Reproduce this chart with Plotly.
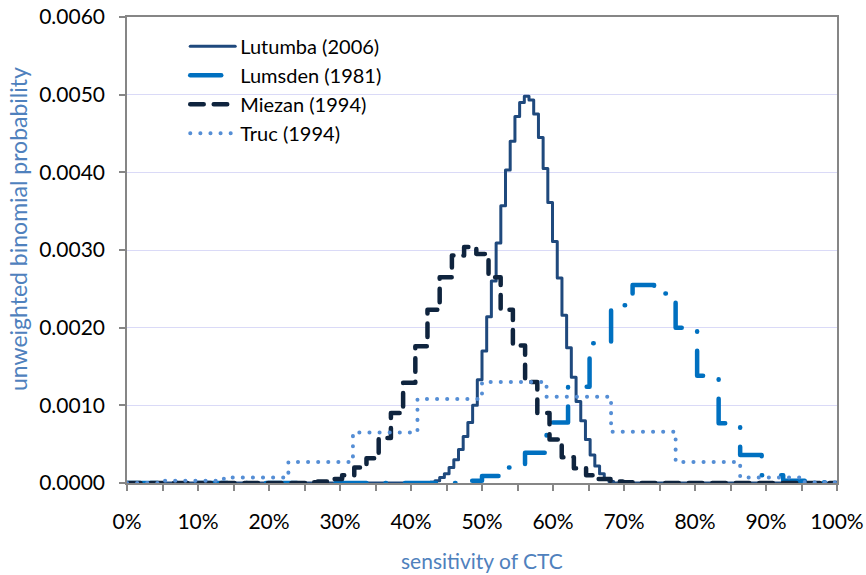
import plotly.graph_objects as go

# ---------------- data ----------------
# sensitivity (%) where each step starts, and the step's probability value
lutumba_x = [0, 42.72, 43.38, 44.04, 44.70, 45.36, 46.03, 46.69, 47.35, 48.01, 48.68,
             49.34, 50.00, 50.66, 51.32, 51.99, 52.65, 53.31, 53.97, 54.64, 55.30,
             55.96, 56.62, 57.28, 57.95, 58.61, 59.27, 59.93, 60.60, 61.26, 61.92,
             62.58, 63.25, 63.91, 64.57, 65.23, 65.89, 66.56, 67.22, 67.88, 68.54, 100]
lutumba_y = [0, 0.00001, 0.00003, 0.00007, 0.00012, 0.00020, 0.00030, 0.00043, 0.00060, 0.00078, 0.00100,
             0.00133, 0.00170, 0.00214, 0.00260, 0.00309, 0.00357, 0.00403, 0.00440, 0.00472, 0.00490,
             0.00498, 0.00493, 0.00475, 0.00445, 0.00405, 0.00361, 0.00311, 0.00264, 0.00216, 0.00174,
             0.00136, 0.00105, 0.00080, 0.00056, 0.00036, 0.00022, 0.00012, 0.00005, 0.00002, 0.0, 0.0]

lumsden_x = [0, 46.97, 50.00, 53.03, 56.06, 59.09, 62.12, 65.15, 68.18, 71.21, 74.24,
             77.27, 80.30, 83.33, 86.36, 89.39, 92.42, 95.45, 98.48, 100]
lumsden_y = [0, 0.00003, 0.00009, 0.00020, 0.00039, 0.00078, 0.00124, 0.00180, 0.00229, 0.00255, 0.00244,
             0.00200, 0.00138, 0.00077, 0.00036, 0.00010, 0.00003, 0.00001, 0.0, 0.0]

miezan_x = [0, 25.14, 26.86, 28.58, 30.30, 32.01, 33.73, 35.45, 37.17, 38.89, 40.61,
            42.32, 44.04, 45.76, 47.48, 49.20, 50.92, 52.63, 54.35, 56.07, 57.79,
            59.51, 61.23, 62.94, 64.66, 66.38, 68.10, 69.82, 71.54, 100]
miezan_y = [0, 0.00001, 0.00002, 0.00005, 0.00010, 0.00020, 0.00032, 0.00058, 0.00090, 0.00129, 0.00176,
            0.00223, 0.00265, 0.00293, 0.00304, 0.00295, 0.00265, 0.00223, 0.00177, 0.00130, 0.00090,
            0.00056, 0.00033, 0.00019, 0.00010, 0.00005, 0.00002, 0.00001, 0.0, 0.0]

truc_x = [0, 4.55, 13.64, 22.73, 31.82, 40.91, 50.00, 59.09, 68.18, 77.27, 86.36, 95.45, 100]
truc_y = [0, 0.00003, 0.00007, 0.00027, 0.00065, 0.00108, 0.00130, 0.00111, 0.00066, 0.00027, 0.00007, 0.00001, 0.00001]

series_names = ["Lutumba (2006)", "Lumsden (1981)", "Miezan (1994)", "Truc (1994)"]
x_ticks = [0, 10, 20, 30, 40, 50, 60, 70, 80, 90, 100]
x_tick_labels = ["0%", "10%", "20%", "30%", "40%", "50%", "60%", "70%", "80%", "90%", "100%"]
y_ticks = [0.0, 0.001, 0.002, 0.003, 0.004, 0.005, 0.006]

FONT = "Lato"
TITLE_BLUE = "#4F81BD"
AXIS_GRAY = "#868686"

fig = go.Figure()
styles = [
    dict(color="#1F497D", width=3, dash="solid"),
    dict(color="#0070C0", width=4.5, dash="31px,19px,0.5px,19px"),
    dict(color="#0F243E", width=4.5, dash="13.5px,10px"),
    dict(color="#558ED5", width=4, dash="0.1px,10px"),
]
for name, xs, ys, st in zip(series_names,
                            [lutumba_x, lumsden_x, miezan_x, truc_x],
                            [lutumba_y, lumsden_y, miezan_y, truc_y],
                            styles):
    fig.add_trace(go.Scatter(x=xs, y=ys, name=name, mode="lines", line_shape="hv",
                             line=st, hoverinfo="skip"))

fig.update_layout(
    template="none",
    width=866, height=575,
    margin=dict(l=127, r=29, t=17, b=92, autoexpand=False),
    paper_bgcolor="white", plot_bgcolor="white",
    font=dict(family=FONT, size=21, color="#000000"),
    showlegend=True,
    legend=dict(x=0.082, y=0.979, xanchor="left", yanchor="top",
                bgcolor="rgba(0,0,0,0)", font=dict(size=20, family=FONT),
                itemwidth=45, tracegroupgap=0),
    annotations=[
        dict(text="unweighted binomial probability", textangle=-90,
             x=-0.1535, y=0.545, xref="paper", yref="paper",
             xanchor="center", yanchor="middle",
             showarrow=False, font=dict(size=23, color=TITLE_BLUE, family=FONT)),
        dict(text="sensitivity of CTC", x=0.5, y=-0.167, xref="paper", yref="paper",
             xanchor="center", yanchor="middle",
             showarrow=False, font=dict(size=21, color=TITLE_BLUE, family=FONT)),
    ],
)
fig.update_xaxes(range=[0, 100], tickvals=x_ticks, ticktext=x_tick_labels,
                 automargin=False,
                 ticks="outside", ticklen=6, tickcolor=AXIS_GRAY, tickwidth=1.5,
                 minor=dict(dtick=5, ticks="outside", ticklen=6, tickcolor=AXIS_GRAY, tickwidth=1.5,
                            showgrid=False),
                 showgrid=False, zeroline=False,
                 showline=True, linecolor=AXIS_GRAY, linewidth=2, mirror=True,
                 ticklabelstandoff=13, layer="below traces",
                 tickfont=dict(size=21, family=FONT, color="#000000"))
fig.update_yaxes(range=[0, 0.006], tickvals=y_ticks, tickformat=".4f",
                 automargin=False,
                 ticks="outside", ticklen=6, tickcolor=AXIS_GRAY, tickwidth=1.5,
                 showgrid=True, gridcolor="#DADAF7", gridwidth=1.2, zeroline=False,
                 showline=True, linecolor=AXIS_GRAY, linewidth=1.5, mirror=True,
                 ticklabelstandoff=10, layer="below traces",
                 tickfont=dict(size=21, family=FONT, color="#000000"))

post = """
document.body.style.margin='0';
var gd=document.getElementById('{plot_id}');
function caps(){ gd.querySelectorAll('path.js-line').forEach(function(p){p.style.strokeLinecap='round';p.style.strokeLinejoin='round';}); }
caps();
gd.on('plotly_afterplot', caps);
"""
fig.write_html("out.html", post_script=post, config={"displayModeBar": False})
